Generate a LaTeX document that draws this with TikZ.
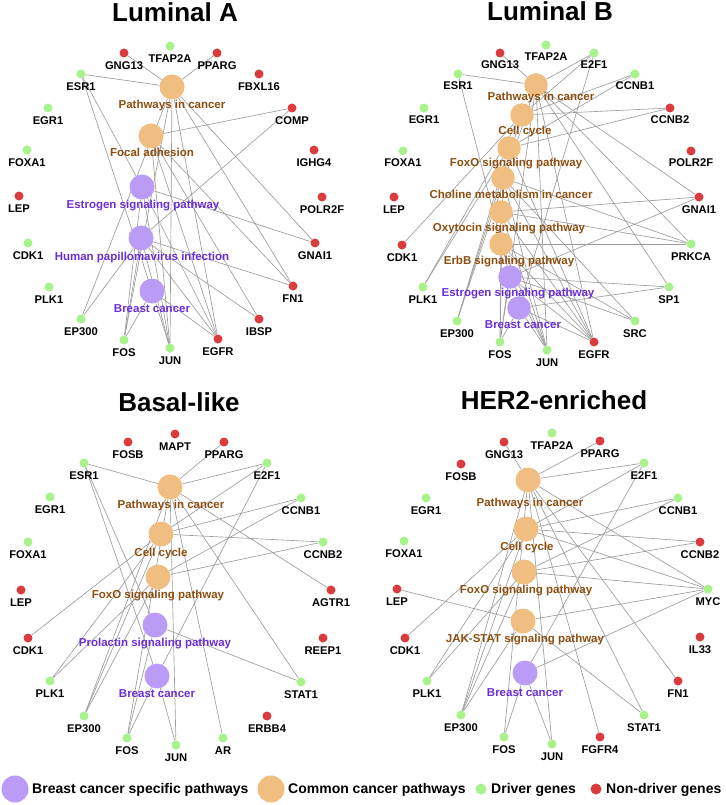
\documentclass[tikz,border=0pt]{standalone}
\usepackage{fontspec}
\setmainfont{Liberation Sans}
\usetikzlibrary{backgrounds}

\definecolor{ccpfill}{HTML}{F0BE80}
\definecolor{bcpfill}{HTML}{BA9CF6}
\definecolor{ccptext}{HTML}{8E4E10}
\definecolor{bcptext}{HTML}{6A2ED8}
\definecolor{drv}{HTML}{A8F28C}
\definecolor{ndrv}{HTML}{D93B3F}
\definecolor{edgegray}{HTML}{9C9C9C}

\tikzset{
  gene/.style={circle,inner sep=0pt,minimum size=9pt},
  pway/.style={circle,inner sep=0pt,minimum size=25pt},
  gname/.style={font=\fontsize{11.2}{12}\selectfont\bfseries,inner sep=0pt,text height=8pt,text depth=0pt},
  pname/.style={font=\fontsize{11.5}{12}\selectfont\bfseries,inner sep=0pt,text height=8pt,text depth=0pt},
  edge/.style={draw=edgegray,line width=0.65pt},
  paneltitle/.style={font=\fontsize{26}{28}\selectfont\bfseries,inner sep=0pt},
  legtext/.style={font=\fontsize{14}{15}\selectfont\bfseries,inner sep=0pt,anchor=west}
}

\begin{document}
\begin{tikzpicture}[x=1pt,y=-1pt]
  \useasboundingbox (0,0) rectangle (725,805);

  % titles
  \node[paneltitle] (tA) at (175,12) {Luminal A};
  \node[paneltitle] (tB) at (550,11) {Luminal B};
  \node[paneltitle] (tC) at (179,402) {Basal-like};
  \node[paneltitle] (tD) at (554,400) {HER2-enriched};

  % Luminal A: genes
  \foreach \g/\x/\y/\c in {TFAP2A/170/46/drv, GNG13/124/53/ndrv, PPARG/217/53/ndrv,
      ESR1/81/74/drv, FBXL16/259/74/ndrv, EGR1/48/108/drv, COMP/292/108/ndrv,
      FOXA1/27/150/drv, IGHG4/314/150/ndrv, LEP/19/196/ndrv, POLR2F/322/197/ndrv,
      CDK1/28/243/drv, GNAI1/315/243/ndrv, PLK1/49/287/drv, FN1/293/286/ndrv,
      EP300/81/319/drv, IBSP/259/319/ndrv, FOS/124/340/drv, JUN/170/348/drv,
      EGFR/218/339/ndrv} {
    \node[gene,fill=\c] (A-\g) at (\x,\y) {};
    \node[gname] (A-\g-t) at (\x,\y+12.5) {\g};
  }
  % Luminal A: pathways
  \foreach \p/\x/\y/\lx/\ly/\c/\t in {PIC/172/87/172/105/ccp/Pathways in cancer,
      FA/151/136/152/153/ccp/Focal adhesion,
      ESP/142/187/143/204/bcp/Estrogen signaling pathway,
      HPV/141/238/142/256/bcp/Human papillomavirus infection,
      BC/152/291/152/308/bcp/Breast cancer} {
    \node[pway,fill=\c fill] (A-\p) at (\x,\y) {};
    \node[pname,text=\c text] (A-\p-t) at (\lx,\ly) {\t};
  }

  % Luminal B: genes
  \foreach \g/\x/\y/\c in {TFAP2A/546/45/drv, GNG13/500/53/ndrv, E2F1/594/53/drv,
      ESR1/458/74/drv, CCNB1/635/74/drv, EGR1/424/108/drv, CCNB2/670/108/ndrv,
      FOXA1/403/151/drv, POLR2F/691/151/ndrv, LEP/394/197/ndrv, GNAI1/699/197/ndrv,
      CDK1/402/245/ndrv, PRKCA/691/244/drv, PLK1/423/287/drv, SP1/669/287/drv,
      EP300/457/321/drv, SRC/635/321/drv, FOS/500/342/drv, JUN/547/350/drv,
      EGFR/594/342/ndrv} {
    \node[gene,fill=\c] (B-\g) at (\x,\y) {};
    \node[gname] (B-\g-t) at (\x,\y+12) {\g};
  }
  % Luminal B: pathways
  \foreach \p/\x/\y/\lx/\ly/\c/\t in {PIC/536/85/541/97/ccp/Pathways in cancer,
      CC/522/115/525/131/ccp/Cell cycle,
      FOXO/509/148/516/163/ccp/FoxO signaling pathway,
      CHOL/503/178/511/194/ccp/Choline metabolism in cancer,
      OXY/501/212/509/227/ccp/Oxytocin signaling pathway,
      ERBB/501/244/509/260/ccp/ErbB signaling pathway,
      ESP/510/277/518/292/bcp/Estrogen signaling pathway,
      BC/519/308/523/324/bcp/Breast cancer} {
    \node[pway,minimum size=23.5pt,fill=\c fill] (B-\p) at (\x,\y) {};
    \node[pname,text=\c text] (B-\p-t) at (\lx,\ly) {\t};
  }

  % Basal-like: genes
  \foreach \g/\x/\y/\c in {MAPT/175/434/ndrv, FOSB/128/442/ndrv, PPARG/224/442/ndrv,
      ESR1/84/463/drv, E2F1/267/463/drv, EGR1/50/497/drv, CCNB1/301/498/drv,
      FOXA1/28/542/drv, CCNB2/323/542/drv, LEP/21/590/ndrv, AGTR1/331/590/ndrv,
      CDK1/28/638/ndrv, REEP1/323/638/ndrv, PLK1/50/681/drv, STAT1/301/682/drv,
      EP300/84/716/drv, ERBB4/267/716/ndrv, FOS/127/738/drv, JUN/176/745/drv,
      AR/223/738/drv} {
    \node[gene,fill=\c] (C-\g) at (\x,\y) {};
    \node[gname] (C-\g-t) at (\x,\y+12.5) {\g};
  }
  % Basal-like: pathways
  \foreach \p/\x/\y/\lx/\ly/\c/\t in {PIC/170/487/171/504/ccp/Pathways in cancer,
      CC/161/534/161/552/ccp/Cell cycle,
      FOXO/158/577/158/594/ccp/FoxO signaling pathway,
      PRL/155/625/155/642/bcp/Prolactin signaling pathway,
      BC/157/676/157/693/bcp/Breast cancer} {
    \node[pway,fill=\c fill] (C-\p) at (\x,\y) {};
    \node[pname,text=\c text] (C-\p-t) at (\lx,\ly) {\t};
  }

  % HER2-enriched: genes
  \foreach \g/\x/\y/\c in {TFAP2A/552/433/drv, GNG13/504/442/ndrv, PPARG/600/441/ndrv,
      FOSB/461/464/ndrv, E2F1/644/463/drv, EGR1/426/498/drv, CCNB1/678/498/drv,
      FOXA1/404/541/drv, CCNB2/700/542/ndrv, LEP/397/589/ndrv, MYC/708/589/drv,
      CDK1/405/638/ndrv, IL33/700/637/ndrv, PLK1/427/681/drv, FN1/678/681/ndrv,
      EP300/461/715/drv, STAT1/644/715/drv, FOS/504/737/drv, JUN/552/744/drv,
      FGFR4/600/737/ndrv} {
    \node[gene,fill=\c] (D-\g) at (\x,\y) {};
    \node[gname] (D-\g-t) at (\x,\y+12) {\g};
  }
  % HER2-enriched: pathways
  \foreach \p/\x/\y/\lx/\ly/\c/\t in {PIC/528/480/530/502/ccp/Pathways in cancer,
      CC/526/529/527/546/ccp/Cell cycle,
      FOXO/524/572/526/589/ccp/FoxO signaling pathway,
      JAK/523/621/525/638/ccp/JAK-STAT signaling pathway,
      BC/525/673/525/692/bcp/Breast cancer} {
    \node[pway,fill=\c fill] (D-\p) at (\x,\y) {};
    \node[pname,text=\c text] (D-\p-t) at (\lx,\ly) {\t};
  }

  % edges (behind the nodes)
  \begin{scope}[on background layer]
    \foreach \p/\g in {PIC/ESR1, PIC/GNG13, PIC/PPARG, PIC/EGFR, PIC/FOS, PIC/JUN,
        PIC/EP300, PIC/FN1, PIC/GNAI1,
        FA/COMP, FA/FN1, FA/IBSP, FA/EGFR, FA/JUN,
        ESP/ESR1, ESP/FOS, ESP/JUN, ESP/EGFR, ESP/GNAI1,
        HPV/COMP, HPV/FN1, HPV/IBSP, HPV/EGFR, HPV/EP300, HPV/FOS, HPV/JUN,
        BC/ESR1, BC/FOS, BC/JUN, BC/EGFR}
      \draw[edge] (A-\p) -- (A-\g);
    \foreach \p/\g in {PIC/ESR1, PIC/GNG13, PIC/E2F1, PIC/EP300, PIC/GNAI1, PIC/PRKCA,
        PIC/SP1, PIC/EGFR, PIC/FOS, PIC/JUN,
        CC/E2F1, CC/CCNB1, CC/CCNB2, CC/EP300, CC/PLK1, CC/CDK1,
        FOXO/CCNB1, FOXO/CCNB2, FOXO/EP300, FOXO/PLK1, FOXO/EGFR,
        CHOL/PRKCA, CHOL/EGFR, CHOL/JUN, CHOL/SRC, CHOL/FOS,
        OXY/GNAI1, OXY/PRKCA, OXY/EGFR, OXY/JUN, OXY/FOS,
        ERBB/PRKCA, ERBB/SRC, ERBB/EGFR, ERBB/JUN,
        ESP/ESR1, ESP/GNAI1, ESP/SP1, ESP/SRC, ESP/EGFR, ESP/FOS, ESP/JUN,
        BC/E2F1, BC/SP1, BC/EGFR, BC/FOS, BC/JUN}
      \draw[edge] (B-\p) -- (B-\g);
    \foreach \p/\g in {PIC/ESR1, PIC/PPARG, PIC/E2F1, PIC/AGTR1, PIC/STAT1, PIC/AR,
        PIC/JUN, PIC/FOS, PIC/EP300,
        CC/E2F1, CC/CCNB1, CC/CCNB2, CC/CDK1, CC/PLK1, CC/EP300,
        FOXO/CCNB1, FOXO/CCNB2, FOXO/PLK1, FOXO/EP300,
        PRL/ESR1, PRL/STAT1, PRL/FOS,
        BC/E2F1, BC/ESR1, BC/FOS, BC/JUN}
      \draw[edge] (C-\p) -- (C-\g);
    \foreach \p/\g in {PIC/GNG13, PIC/PPARG, PIC/E2F1, PIC/MYC, PIC/STAT1, PIC/FN1,
        PIC/FGFR4, PIC/FOS, PIC/JUN, PIC/EP300,
        CC/E2F1, CC/CCNB1, CC/CCNB2, CC/MYC, CC/CDK1, CC/PLK1, CC/EP300,
        FOXO/CCNB1, FOXO/CCNB2, FOXO/PLK1, FOXO/EP300, FOXO/MYC,
        JAK/LEP, JAK/MYC, JAK/STAT1, JAK/EP300,
        BC/E2F1, BC/MYC, BC/FOS, BC/JUN}
      \draw[edge] (D-\p) -- (D-\g);
  \end{scope}

  % legend
  \node[pway,minimum size=27pt,fill=bcpfill] (leg-bcp) at (15,789) {};
  \node[legtext] (leg-bcp-t) at (32,790) {Breast cancer specific pathways};
  \node[pway,minimum size=27pt,fill=ccpfill] (leg-ccp) at (271,789) {};
  \node[legtext] (leg-ccp-t) at (288,790) {Common cancer pathways};
  \node[gene,minimum size=11pt,fill=drv] (leg-drv) at (481,789) {};
  \node[legtext] (leg-drv-t) at (491,790) {Driver genes};
  \node[gene,minimum size=11pt,fill=ndrv] (leg-ndrv) at (596,789) {};
  \node[legtext] (leg-ndrv-t) at (606,790) {Non-driver genes};
\end{tikzpicture}
\end{document}
